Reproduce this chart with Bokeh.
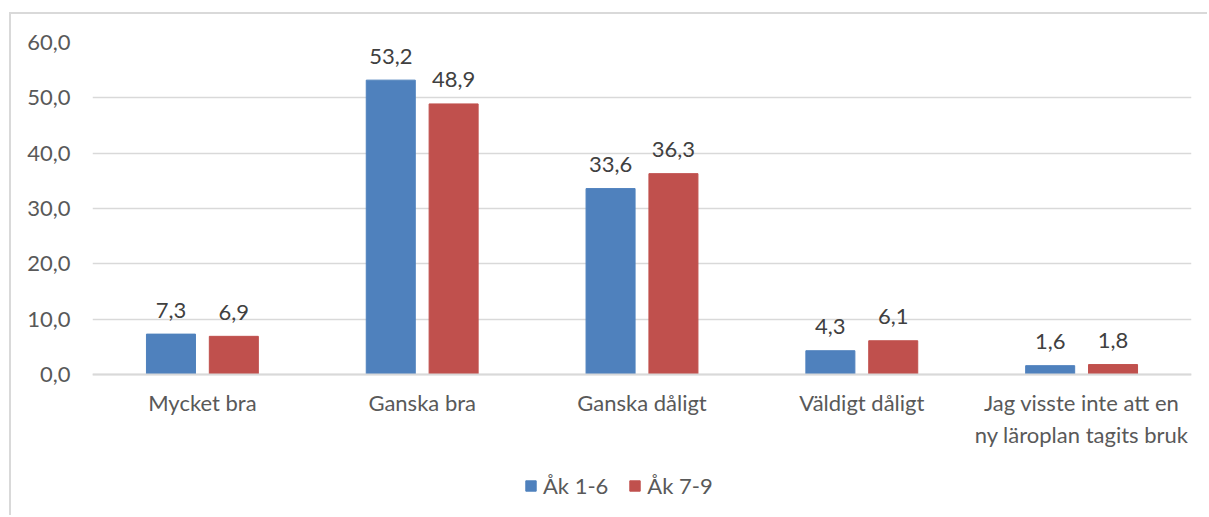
from bokeh.plotting import figure
from bokeh.models import (ColumnDataSource, FactorRange, Range1d, FixedTicker,
                          Legend, LegendItem)
from bokeh.transform import dodge
from bokeh.embed import file_html
from bokeh.resources import INLINE
from bokeh.core.properties import value

categories = ["Mycket bra", "Ganska bra", "Ganska dåligt", "Väldigt dåligt",
              "Jag visste inte att en\nny läroplan tagits bruk"]
series_names = ["Åk 1-6", "Åk 7-9"]
ak_1_6 = [7.3, 53.2, 33.6, 4.3, 1.6]
ak_7_9 = [6.9, 48.9, 36.3, 6.1, 1.8]
y_ticks = [0, 10, 20, 30, 40, 50, 60]
y_tick_labels = ["0,0", "10,0", "20,0", "30,0", "40,0", "50,0", "60,0"]

def fmt(v):
    return f"{v:.1f}".replace(".", ",")

src = ColumnDataSource(dict(
    cat=categories,
    a=ak_1_6, b=ak_7_9,
    la=[fmt(v) for v in ak_1_6], lb=[fmt(v) for v in ak_7_9],
))

FONT = "Lato"
FS = "22px"
AXIS_COLOR = "#595959"
LABEL_COLOR = "#404040"
GRID = "#d9d9d9"
BLUE = "#4f81bd"
RED = "#c0504d"

# frame spans down to the canvas bottom; the value axis (0..60) occupies the upper part
p = figure(width=1198, height=503, output_backend="svg", toolbar_location=None,
           x_range=FactorRange(factors=categories, range_padding=0),
           y_range=Range1d(-25.84, 60),
           min_border_left=81, min_border_right=18, min_border_top=28,
           min_border_bottom=0)
p.styles = {"margin-left": "9px", "margin-top": "12px",
            "border-left": "2px solid #d9d9d9", "border-top": "2px solid #d9d9d9"}
p.outline_line_color = None
p.background_fill_color = "white"
p.border_fill_color = "white"

off = 0.143
w = 0.223
r1 = p.vbar(x=dodge("cat", -off, range=p.x_range), top="a", width=w, source=src,
            fill_color=BLUE, line_color=BLUE)
r2 = p.vbar(x=dodge("cat", off, range=p.x_range), top="b", width=w, source=src,
            fill_color=RED, line_color=RED)

p.text(x=dodge("cat", -off, range=p.x_range), y="a", text="la", source=src,
       text_align="center", text_baseline="alphabetic", y_offset=-24,
       text_font=value(FONT), text_font_size=FS, text_color=LABEL_COLOR)
p.text(x=dodge("cat", off, range=p.x_range), y="b", text="lb", source=src,
       text_align="center", text_baseline="alphabetic", y_offset=-24,
       text_font=value(FONT), text_font_size=FS, text_color=LABEL_COLOR)

# y axis
p.yaxis.ticker = FixedTicker(ticks=y_ticks)
p.yaxis.major_label_overrides = {t: l for t, l in zip(y_ticks, y_tick_labels)}
p.yaxis.axis_line_color = None
p.yaxis.major_tick_line_color = None
p.yaxis.minor_tick_line_color = None
p.yaxis.major_tick_out = 0
p.yaxis.major_tick_in = 0
p.yaxis.major_label_standoff = 22
p.yaxis.major_label_text_font = FONT
p.yaxis.major_label_text_font_size = FS
p.yaxis.major_label_text_color = AXIS_COLOR

# x axis, pinned at value 0
p.xaxis.fixed_location = 0
p.xaxis.axis_line_color = GRID
p.xaxis.axis_line_width = 2
p.xaxis.major_tick_line_color = None
p.xaxis.minor_tick_line_color = None
p.xaxis.major_tick_out = 0
p.xaxis.major_tick_in = 0
p.xaxis.major_label_standoff = 14
p.xaxis.major_label_text_font = FONT
p.xaxis.major_label_text_font_size = FS
p.xaxis.major_label_text_color = AXIS_COLOR

p.xgrid.grid_line_color = None
p.ygrid.grid_line_color = GRID
p.ygrid.grid_line_width = 1.6
p.ygrid.ticker = FixedTicker(ticks=y_ticks)

legend = Legend(items=[LegendItem(label=series_names[0], renderers=[r1]),
                       LegendItem(label=series_names[1], renderers=[r2])],
                orientation="horizontal", location=(432, 18),
                glyph_width=13, glyph_height=13, label_standoff=6, spacing=20,
                padding=0, margin=0, border_line_color=None,
                background_fill_alpha=0,
                label_text_font=FONT, label_text_font_size=FS,
                label_text_color=AXIS_COLOR)
p.add_layout(legend, "center")

open("out.html", "w").write(file_html(p, INLINE))
